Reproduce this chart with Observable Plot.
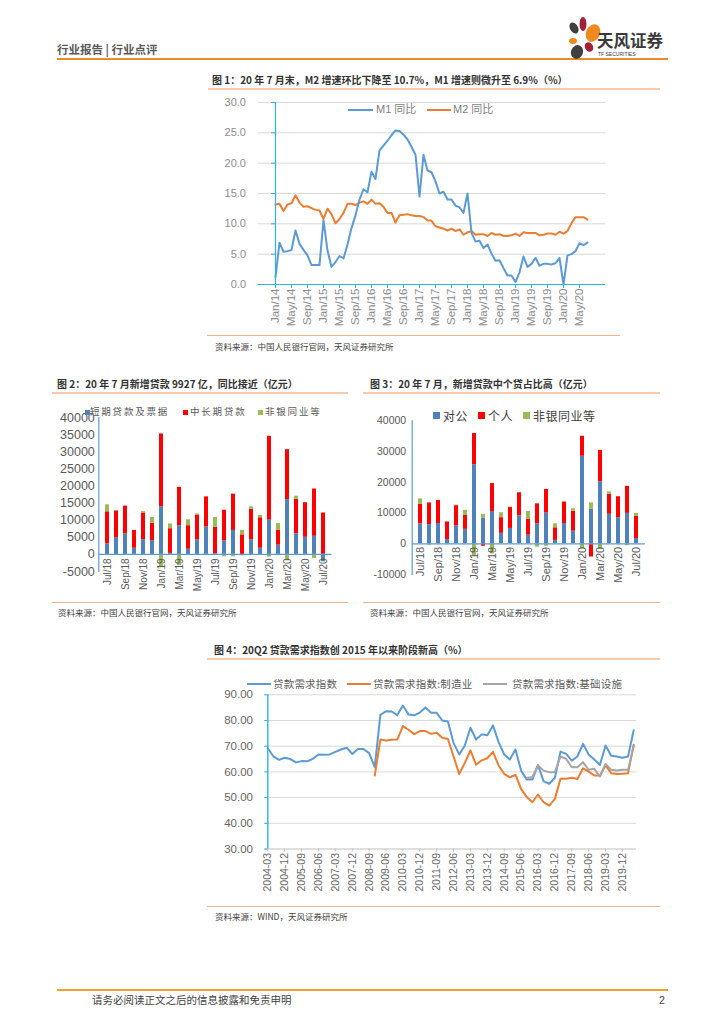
<!DOCTYPE html>
<html><head><meta charset="utf-8">
<script src="https://cdn.jsdelivr.net/npm/d3@7"></script>
<script src="https://cdn.jsdelivr.net/npm/@observablehq/plot@0.6"></script>
<style>
html,body{margin:0;padding:0;background:#fff;}
body{width:724px;height:1024px;position:relative;overflow:hidden;font-family:"Noto Sans CJK SC","Liberation Sans",sans-serif;}
.t{position:absolute;white-space:nowrap;line-height:1;}
.bar{position:absolute;}
.chart{position:absolute;}
</style></head><body>
<script>
// ---------------- DATA ----------------
const monthNames = ["Jan","Feb","Mar","Apr","May","Jun","Jul","Aug","Sep","Oct","Nov","Dec"];
// Chart 1: monthly Jan/14 - Jul/20
const months1 = d3.range(79).map(i => `${monthNames[i % 12]}/${14 + Math.floor(i / 12)}`);
const m1Values = [
  1.2, 6.9, 5.4, 5.5, 5.7, 8.9, 6.7, 5.7, 4.8, 3.2, 3.2, 3.2,
  10.6, 5.6, 2.9, 3.7, 4.7, 4.3, 6.6, 9.3, 11.4, 14.0, 15.7, 15.2,
  18.6, 17.4, 22.1, 22.9, 23.7, 24.6, 25.4, 25.3, 24.7, 23.9, 22.7, 21.4,
  14.5, 21.4, 18.8, 18.5, 17.0, 15.0, 15.3, 14.0, 14.0, 13.0, 12.7, 11.8,
  15.0, 8.5, 7.1, 7.2, 6.0, 6.6, 5.1, 3.9, 4.0, 2.7, 1.5, 1.5,
  0.4, 2.0, 4.6, 2.9, 3.4, 4.4, 3.1, 3.4, 3.4, 3.3, 3.5, 4.4,
  0.0, 4.8, 5.0, 5.5, 6.8, 6.5, 6.9
];
const m2Values = [
  13.2, 13.3, 12.1, 13.2, 13.4, 14.7, 13.5, 12.8, 12.9, 12.6, 12.3, 12.2,
  10.8, 12.5, 11.6, 10.1, 10.8, 11.8, 13.3, 13.3, 13.1, 13.5, 13.7, 13.3,
  14.0, 13.3, 13.4, 12.8, 11.8, 11.8, 10.2, 11.4, 11.5, 11.6, 11.4, 11.3,
  11.3, 11.1, 10.6, 10.5, 9.6, 9.4, 9.2, 8.9, 9.2, 8.8, 9.1, 8.2,
  8.6, 8.8, 8.2, 8.3, 8.3, 8.0, 8.5, 8.2, 8.3, 8.0, 8.0, 8.1,
  8.4, 8.0, 8.6, 8.5, 8.5, 8.5, 8.1, 8.2, 8.4, 8.4, 8.2, 8.7,
  8.4, 8.8, 10.1, 11.1, 11.1, 11.1, 10.7
];
const tickLabels1 = ["Jan/14","May/14","Sep/14","Jan/15","May/15","Sep/15","Jan/16","May/16","Sep/16","Jan/17","May/17","Sep/17","Jan/18","May/18","Sep/18","Jan/19","May/19","Sep/19","Jan/20","May/20"];
const yTicks1 = [0, 5, 10, 15, 20, 25, 30];
const series1 = ["M1 同比", "M2 同比"];

// Chart 2 & 3: monthly Jul/18 - Jul/20 (亿元)
const months2 = ["Jul/18","Aug/18","Sep/18","Oct/18","Nov/18","Dec/18","Jan/19","Feb/19","Mar/19","Apr/19","May/19","Jun/19","Jul/19","Aug/19","Sep/19","Oct/19","Nov/19","Dec/19","Jan/20","Feb/20","Mar/20","Apr/20","May/20","Jun/20","Jul/20"];
const tickLabels2 = ["Jul/18","Sep/18","Nov/18","Jan/19","Mar/19","May/19","Jul/19","Sep/19","Nov/19","Jan/20","Mar/20","May/20","Jul/20"];
const series2 = ["短期贷款及票据", "中长期贷款", "非银同业等"];
const shortLoans = [3100, 4900, 6000, 1800, 4300, 4000, 13900, 300, 8300, 1500, 4200, 8000, 200, 3900, 7000, -400, 4300, 1800, 10000, 2700, 16000, 6000, 5000, 5300, -2100];
const longLoans  = [9350, 7800, 8100, 5200, 7800, 5100, 21300, 7200, 11300, 6900, 7300, 8800, 7700, 9000, 10600, 5700, 8900, 8900, 24500, 4400, 14600, 10100, 10100, 13800, 12100];
const nonBank2   = [2050, 100, -300, -100, 400, 1700, -3900, 1400, -3300, 1700, 300, -200, 2900, -700, -700, 1300, 700, 700, -800, 1900, -1900, 900, -200, -1200, -100];
const yTicks2 = [-5000, 0, 5000, 10000, 15000, 20000, 25000, 30000, 35000, 40000];

const series3 = ["对公", "个人", "非银同业等"];
const corporate = [6500, 6200, 6600, 1400, 5800, 4700, 25700, 8400, 10500, 3400, 5000, 9100, 2800, 6500, 10000, 1100, 6600, 4100, 28500, 11200, 20200, 9600, 8500, 9900, 1700];
const household = [6300, 7100, 7500, 5700, 6600, 4500, 10200, -800, 9100, 5100, 6800, 7500, 5100, 6500, 7700, 4100, 7000, 6500, 6500, -4300, 10200, 6500, 6800, 8800, 7200];
const nonBank3  = [1800, -500, -300, -100, 200, 1700, -3800, 1200, -3300, 1600, 100, 0, 2600, -1100, -800, 1300, 200, 800, -1700, 2100, -1900, 800, -300, -600, 1000];
const yTicks3 = [-10000, 0, 10000, 20000, 30000, 40000];

// Chart 4: quarterly 2004-03 - 2020-06
const quarters4 = d3.range(66).map(i => `${2004 + Math.floor(i / 4)}-${["03","06","09","12"][i % 4]}`);
const tickLabels4 = ["2004-03","2004-12","2005-09","2006-06","2007-03","2007-12","2008-09","2009-06","2010-03","2010-12","2011-09","2012-06","2013-03","2013-12","2014-09","2015-06","2016-03","2016-12","2017-09","2018-06","2019-03","2019-12"];
const demandAll = [
  69.2, 66.0, 64.7, 65.5, 65.0, 63.7, 64.2, 64.1, 65.1, 66.8,
  66.7, 66.8, 67.8, 68.7, 69.4, 67.0, 68.9, 68.9, 67.3, 61.9,
  82.2, 83.6, 83.5, 82.1, 85.8, 82.3, 82.0, 83.1, 85.1, 83.0,
  83.0, 80.0, 79.6, 71.2, 66.8, 70.3, 77.2, 72.6, 74.6, 74.3,
  78.1, 71.6, 66.8, 64.8, 68.7, 60.5, 57.0, 57.0, 62.7, 56.3,
  55.4, 57.7, 67.9, 67.0, 64.4, 66.0, 70.9, 66.8, 64.8, 62.7,
  70.3, 66.3, 66.0, 65.5, 66.0, 76.2
];
const demandMfg = [
  null, null, null, null, null, null, null, null, null, null,
  null, null, null, null, null, null, null, null, null, 58.6,
  72.6, 72.2, 72.5, 72.6, 77.8, 76.4, 74.7, 75.9, 75.9, 74.8,
  75.2, 73.3, 72.8, 66.0, 59.2, 63.5, 68.4, 62.8, 64.5, 65.3,
  67.8, 62.5, 59.2, 57.9, 58.8, 53.4, 50.2, 48.2, 51.2, 48.2,
  46.9, 49.5, 57.3, 57.3, 57.7, 57.2, 61.4, 60.1, 58.6, 58.6,
  62.5, 59.5, 59.2, 59.3, 59.5, 70.6
];
const demandInfra = [
  null, null, null, null, null, null, null, null, null, null,
  null, null, null, null, null, null, null, null, null, null,
  null, null, null, null, null, null, null, null, null, null,
  null, null, null, null, null, null, null, null, null, null,
  null, null, null, null, null, null, 57.6, 58.0, 62.5, 60.5,
  59.9, 59.9, 66.0, 65.1, 61.8, 61.8, 63.8, 60.8, 61.2, 58.2,
  63.1, 60.8, 60.5, 60.8, 60.8, 70.0
];
const yTicks4 = [30, 40, 50, 60, 70, 80, 90];
const series4 = ["贷款需求指数", "贷款需求指数:制造业", "贷款需求指数:基础设施"];

// ---------------- HELPERS ----------------
const page = document.body;
function txt(s, x, yc, size, opts = {}) {
  const d = document.createElement("div");
  d.className = "t";
  d.textContent = s;
  d.style.left = x + "px";
  d.style.top = (yc - size / 2) + "px";
  d.style.fontSize = size + "px";
  d.style.color = opts.color || "#333";
  if (opts.bold) d.style.fontWeight = "bold";
  if (opts.ls) d.style.letterSpacing = opts.ls + "px";
  if (opts.family) d.style.fontFamily = opts.family;
  page.appendChild(d);
  return d;
}
function hbar(x, y, w, h, color) {
  const d = document.createElement("div");
  d.className = "bar";
  Object.assign(d.style, {left: x + "px", top: y + "px", width: w + "px", height: h + "px", background: color});
  page.appendChild(d);
}
function place(svg, x, y) {
  const wrap = document.createElement("div");
  wrap.className = "chart";
  wrap.style.left = x + "px";
  wrap.style.top = y + "px";
  wrap.appendChild(svg);
  page.appendChild(wrap);
}
const FONT = "'Liberation Sans','Noto Sans CJK SC',sans-serif";

// ---------------- HEADER ----------------
txt("行业报告 | 行业点评", 57, 50, 11.5, {color: "#595959", bold: true});
hbar(57, 58, 611, 2, "#EE8A2E");
const logo = document.createElementNS("http://www.w3.org/2000/svg", "svg");
logo.setAttribute("width", "40"); logo.setAttribute("height", "46");
logo.innerHTML = `
<ellipse cx="9" cy="12" rx="4" ry="6" transform="rotate(-30 9 12)" fill="#3f3f3f"/>
<ellipse cx="18" cy="8" rx="3.5" ry="7" fill="#A3203A"/>
<ellipse cx="28" cy="17" rx="7" ry="9" transform="rotate(25 28 17)" fill="#EE8A1E"/>
<ellipse cx="8" cy="25" rx="4" ry="3" fill="#EE8A1E"/>
<ellipse cx="12" cy="36" rx="6" ry="7" transform="rotate(20 12 36)" fill="#3f3f3f"/>
<ellipse cx="24" cy="31" rx="4" ry="5" transform="rotate(-30 24 31)" fill="#A3203A"/>`;
const lw = document.createElement("div");
lw.className = "chart"; lw.style.left = "565px"; lw.style.top = "16px";
lw.appendChild(logo); page.appendChild(lw);
txt("天风证券", 597, 40, 16.5, {color: "#3a3a3a", bold: true});
txt("TF SECURITIES", 598, 54.5, 5, {color: "#3a3a3a", family: FONT});

// ---------------- CHART 1 ----------------
txt("图 1：20 年 7 月末，M2 增速环比下降至 10.7%，M1 增速则微升至 6.9%（%）", 212, 80, 10, {color: "#333", bold: true});
hbar(208, 88, 452, 2, "#F8CBAD");
const c1data = months1.flatMap((m, i) => [
  {m, s: series1[0], v: m1Values[i]},
  {m, s: series1[1], v: m2Values[i]}
]);
const axisBlue = "#2CB1E8";
const chart1 = Plot.plot({
  width: 420, height: 245,
  marginLeft: 57.5, marginRight: 15, marginTop: 7, marginBottom: 56,
  style: {fontFamily: FONT, background: "transparent"},
  x: {type: "point", domain: months1, range: [57.5, 403.5], axis: null},
  y: {domain: [0, 30], axis: null},
  marks: [
    Plot.ruleY(yTicks1.filter(d => d > 0), {stroke: "#d9d9d9", strokeWidth: 1}),
    Plot.line(c1data.filter(d => d.s === series1[1]), {x: "m", y: "v", stroke: "#ED7D31", strokeWidth: 2}),
    Plot.line(c1data.filter(d => d.s === series1[0]), {x: "m", y: "v", stroke: "#5B9BD5", strokeWidth: 2}),
    Plot.ruleY([0], {stroke: axisBlue, strokeWidth: 1.2}),
    Plot.ruleX([months1[0]], {stroke: axisBlue, strokeWidth: 1.2}),
    Plot.ruleY(yTicks1, {x1: () => months1[0], x2: () => months1[0], insetLeft: -4, stroke: axisBlue}),
    Plot.ruleX(tickLabels1, {x: d => d, y1: () => 0, y2: () => 0, insetBottom: -4, stroke: axisBlue}),
    Plot.text(yTicks1, {y: d => d, frameAnchor: "left", text: d => d.toFixed(1), textAnchor: "end", dx: -12, fill: "#8c8c8c", fontSize: 11}),
    Plot.text(tickLabels1, {x: d => d, y: () => 0, text: d => d, rotate: -90, textAnchor: "end", dy: 4, fill: "#8c8c8c", fontSize: 11.5})
  ]
});
place(chart1, 200, 95);
hbar(348, 108.5, 25, 2, "#5B9BD5");
txt("M1 同比", 376, 109.5, 11, {color: "#7f7f7f", family: FONT});
hbar(427, 108.5, 24, 2, "#ED7D31");
txt("M2 同比", 453, 109.5, 11, {color: "#7f7f7f", family: FONT});
hbar(207, 335, 413, 1, "#F4B183");
txt("资料来源：中国人民银行官网，天风证券研究所", 215, 346, 8.5, {color: "#404040"});

// ---------------- CHART 2 ----------------
txt("图 2：20 年 7 月新增贷款 9927 亿，同比接近（亿元）", 57, 383.5, 10, {color: "#333", bold: true});
hbar(52, 392, 296, 2, "#F8CBAD");
const c2data = months2.flatMap((m, i) => [
  {m, s: series2[0], v: shortLoans[i]},
  {m, s: series2[1], v: longLoans[i]},
  {m, s: series2[2], v: nonBank2[i]}
]);
const colors2 = ["#4F81BD", "#FF0000", "#9BBB59"];
const chart2 = Plot.plot({
  width: 296, height: 205,
  marginLeft: 46.3, marginRight: 16.4, marginTop: 22, marginBottom: 29,
  style: {fontFamily: FONT, background: "transparent"},
  x: {type: "band", domain: months2, paddingInner: 0.52, paddingOuter: 0.26, axis: null},
  y: {domain: [-5000, 40000], axis: null},
  color: {domain: series2, range: colors2},
  marks: [
    Plot.barY(c2data, {x: "m", y: "v", fill: "s"}),
    Plot.ruleY([0], {stroke: "#5B9BD5", strokeWidth: 1.2}),
    Plot.frame({anchor: "left", stroke: "#5B9BD5", strokeWidth: 1.2}),
    Plot.text(yTicks2, {y: d => d, frameAnchor: "left", text: d => String(d), textAnchor: "end", dx: -4, fill: "#595959", fontSize: 12.5}),
    Plot.text(tickLabels2, {x: d => d, y: () => 0, text: d => d, rotate: -90, textAnchor: "end", dy: 4, fill: "#595959", fontSize: 10})
  ]
});
place(chart2, 52, 395);
[[85, 90], [183, 190], [258, 265]].forEach(([sx, tx], i) => {
  hbar(sx, 409.5, 5, 5, colors2[i]);
  txt(series2[i], tx, 412, 9.5, {color: "#595959", ls: 1.8});
});
hbar(52, 602, 296, 1, "#F4B183");
txt("资料来源：中国人民银行官网，天风证券研究所", 58, 612.5, 8.5, {color: "#404040"});

// ---------------- CHART 3 ----------------
txt("图 3：20 年 7 月，新增贷款中个贷占比高（亿元）", 370, 383.5, 10, {color: "#333", bold: true});
hbar(363, 392, 297, 2, "#F8CBAD");
const c3data = months2.flatMap((m, i) => [
  {m, s: series3[0], v: corporate[i]},
  {m, s: series3[1], v: household[i]},
  {m, s: series3[2], v: nonBank3[i]}
]);
const colors3 = ["#4F81BD", "#FF0000", "#9BBB59"];
const chart3 = Plot.plot({
  width: 297, height: 205,
  marginLeft: 48.7, marginRight: 15, marginTop: 25.4, marginBottom: 26,
  style: {fontFamily: FONT, background: "transparent"},
  x: {type: "band", domain: months2, paddingInner: 0.52, paddingOuter: 0.26, axis: null},
  y: {domain: [-10000, 40000], axis: null},
  color: {domain: series3, range: colors3},
  marks: [
    Plot.barY(c3data, {x: "m", y: "v", fill: "s"}),
    Plot.ruleY([0], {stroke: "#5B9BD5", strokeWidth: 1.2}),
    Plot.frame({anchor: "left", stroke: "#5B9BD5", strokeWidth: 1.2}),
    Plot.text(yTicks3, {y: d => d, frameAnchor: "left", text: d => String(d), textAnchor: "end", dx: -6, fill: "#595959", fontSize: 10.5}),
    Plot.text(tickLabels2, {x: d => d, y: () => 0, text: d => d, rotate: -90, textAnchor: "end", dy: 3, fill: "#595959", fontSize: 11})
  ]
});
place(chart3, 363, 395);
[[433, 443], [478, 488], [523, 533]].forEach(([sx, tx], i) => {
  hbar(sx, 412, 7, 7, colors3[i]);
  txt(series3[i], tx, 415.5, 12, {color: "#404040", ls: 0.5});
});
hbar(363, 602, 297, 1, "#F4B183");
txt("资料来源：中国人民银行官网，天风证券研究所", 370, 612.5, 8.5, {color: "#404040"});

// ---------------- CHART 4 ----------------
txt("图 4：20Q2 贷款需求指数创 2015 年以来阶段新高（%）", 214, 650, 10, {color: "#333", bold: true});
hbar(207, 658, 453, 2, "#F8CBAD");
const c4data = quarters4.flatMap((q, i) => [
  {q, s: series4[0], v: demandAll[i]},
  {q, s: series4[1], v: demandMfg[i]},
  {q, s: series4[2], v: demandInfra[i]}
]);
const colors4 = ["#5B9BD5", "#ED7D31", "#A5A5A5"];
const chart4 = Plot.plot({
  width: 450, height: 240,
  marginLeft: 64.5, marginRight: 14, marginTop: 29.3, marginBottom: 56.5,
  style: {fontFamily: FONT, background: "transparent"},
  x: {type: "point", domain: quarters4, range: [64.5, 436], axis: null},
  y: {domain: [30, 90], axis: null},
  marks: [
    Plot.ruleY(yTicks4.filter(d => d > 30), {stroke: "#d9d9d9", strokeWidth: 1}),
    Plot.ruleY([30], {stroke: "#bfbfbf", strokeWidth: 1}),
    Plot.line(c4data.filter(d => d.s === series4[0]), {x: "q", y: "v", stroke: colors4[0], strokeWidth: 2}),
    Plot.line(c4data.filter(d => d.s === series4[1]), {x: "q", y: "v", stroke: colors4[1], strokeWidth: 2}),
    Plot.line(c4data.filter(d => d.s === series4[2]), {x: "q", y: "v", stroke: colors4[2], strokeWidth: 2}),
    Plot.ruleX([quarters4[0]], {stroke: axisBlue, strokeWidth: 1.4}),
    Plot.ruleY(yTicks4, {x1: () => quarters4[0], x2: () => quarters4[0], insetLeft: -3, stroke: axisBlue}),
    Plot.ruleX(tickLabels4, {x: d => d, y1: () => 30, y2: () => 30, insetBottom: -3, stroke: "#bfbfbf"}),
    Plot.text(yTicks4, {y: d => d, frameAnchor: "left", text: d => d.toFixed(2), textAnchor: "end", dx: -12, fill: "#666", fontSize: 11.5}),
    Plot.text(tickLabels4, {x: d => d, y: () => 30, text: d => d, rotate: -90, textAnchor: "end", dy: 4, fill: "#666", fontSize: 10.5})
  ]
});
place(chart4, 200, 665);
[[247, 273], [347, 373], [483, 512]].forEach(([sx, tx], i) => {
  hbar(sx, 682.5, 24, 2, colors4[i]);
  txt(series4[i], tx, 684, 10.5, {color: "#595959", ls: 0.2});
});
hbar(207, 906, 453, 1, "#F4B183");
txt("资料来源：WIND，天风证券研究所", 215, 916.5, 8.5, {color: "#404040"});

// ---------------- FOOTER ----------------
hbar(57, 989, 611, 2, "#F0A030");
txt("请务必阅读正文之后的信息披露和免责申明", 92, 1000, 10.5, {color: "#404040"});
txt("2", 659, 1000, 10.5, {color: "#404040", family: FONT});
</script>
</body></html>
